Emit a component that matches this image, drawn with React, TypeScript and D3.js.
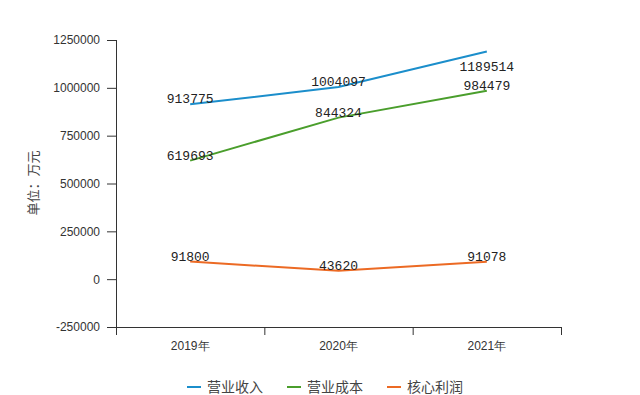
import React from 'react'
import { useEffect, useRef } from 'react'
import * as d3 from 'd3'

// chart data
const years = ['2019年', '2020年', '2021年']
const revenue = [913775, 1004097, 1189514]
const cost = [619693, 844324, 984479]
const coreProfit = [91800, 43620, 91078]
const seriesNames = ['营业收入', '营业成本', '核心利润']
const yTicks = [-250000, 0, 250000, 500000, 750000, 1000000, 1250000]

const colors = ['#1b8ecb', '#4a9e2c', '#ec6a24']

const App = () => {
    const svgRef = useRef<SVGSVGElement>(null)

    useEffect(() => {
        const w = 640
        const h = 395
        const svg = d3.select(svgRef.current)
        svg.selectAll('*').remove()
        svg.attr('width', w).attr('height', h)

        svg.append('rect').attr('width', w).attr('height', h).attr('fill', '#ffffff')

        // scales
        const xScale = d3.scaleBand().domain(years).range([116, 561]).padding(0)
        const yScale = d3.scaleLinear().domain([-250000, 1250000]).range([327, 40])
        const cx = (i: number) => (xScale(years[i]) as number) + xScale.bandwidth() / 2

        // y axis
        const yAxis = d3.axisLeft(yScale).tickValues(yTicks).tickSize(9).tickPadding(7)
            .tickFormat(d => String(d))
        const gy = svg.append('g').attr('transform', 'translate(116,0)').call(yAxis)
        gy.select('.domain').remove()
        gy.selectAll('line').attr('stroke', '#333')
        gy.selectAll('text').attr('fill', '#333').style('font-family', 'Liberation Sans, Arial, sans-serif')
            .style('font-size', '12px')
        svg.append('line').attr('x1', 116.5).attr('x2', 116.5).attr('y1', 40).attr('y2', 335)
            .attr('stroke', '#333')

        // x axis
        const xAxis = d3.axisBottom(xScale).tickSize(0).tickPadding(14)
        const gx = svg.append('g').attr('transform', 'translate(0,327)').call(xAxis)
        gx.select('.domain').remove()
        gx.selectAll('text').attr('fill', '#333').style('font-family', 'Liberation Sans, Arial, sans-serif')
            .style('font-size', '12px')
        svg.append('line').attr('x1', 116).attr('x2', 561).attr('y1', 327.5).attr('y2', 327.5)
            .attr('stroke', '#333')
        const edges = [...years.map(y => xScale(y) as number), 561]
        svg.selectAll('.xtick').data(edges).join('line')
            .attr('x1', d => d + 0.5).attr('x2', d => d + 0.5).attr('y1', 327).attr('y2', 335)
            .attr('stroke', '#333')

        // y axis title
        svg.append('text').attr('transform', 'translate(38,183) rotate(-90)')
            .attr('text-anchor', 'middle').attr('fill', '#444')
            .style('font-family', 'Noto Sans CJK SC, sans-serif').style('font-size', '13px')
            .text('单位：万元')

        // lines
        const line = d3.line<number>().x((d, i) => cx(i)).y(d => yScale(d))
        const all = [revenue, cost, coreProfit]
        all.forEach((s, k) => {
            svg.append('path').attr('d', line(s)).attr('fill', 'none')
                .attr('stroke', colors[k]).attr('stroke-width', 2)
        })

        // data labels
        all.forEach((s, k) => {
            s.forEach((v, i) => {
                const below = k === 0 && i === 2
                svg.append('text').attr('x', cx(i)).attr('y', yScale(v) + (below ? 19 : -1))
                    .attr('text-anchor', 'middle').attr('fill', '#222')
                    .style('font-family', 'Liberation Mono, monospace').style('font-size', '13px')
                    .text(String(v))
            })
        })

        // legend
        const lx = d3.scalePoint().domain(seriesNames).range([187, 387])
        seriesNames.forEach((n, k) => {
            const x0 = lx(n) as number
            svg.append('line').attr('x1', x0).attr('x2', x0 + 14).attr('y1', 387).attr('y2', 387)
                .attr('stroke', colors[k]).attr('stroke-width', 2)
            svg.append('text').attr('x', x0 + 20).attr('y', 392).attr('fill', '#444')
                .style('font-family', 'Noto Sans CJK SC, sans-serif').style('font-size', '14px')
                .text(n)
        })
    }, [])

    return (
        <div style={{ position: 'absolute', left: 0, top: 0 }}>
            <svg ref={svgRef}></svg>
        </div>
    )
}

export default App
